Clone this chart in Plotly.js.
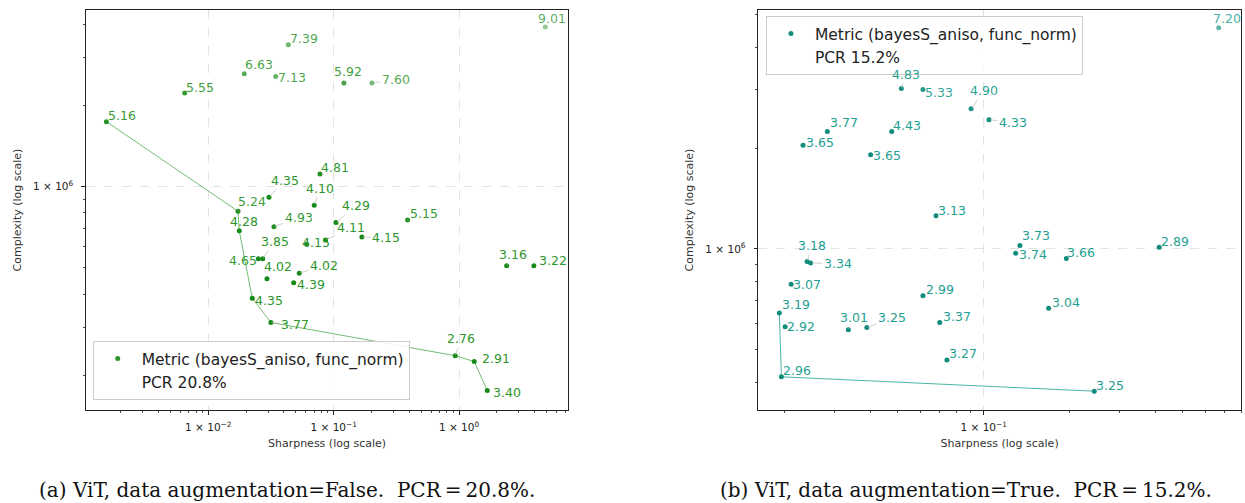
<!DOCTYPE html>
<html>
<head>
<meta charset="utf-8">
<script src="https://cdn.plot.ly/plotly-3.0.1.min.js"></script>
<style>html,body{margin:0;padding:0;background:#fff;}</style>
</head>
<body>
<div id="chart" style="width:1245px;height:503px;"></div>
<script>
// ---------- Data: (a) data augmentation = False ----------
const leftSharpness = [0.00154, 0.00649, 0.01936, 0.0345, 0.0435, 0.1208, 0.202, 4.87, 0.0778, 0.0305,
  0.070, 0.01726, 0.01767, 0.0334, 0.1043, 0.0863, 0.0609, 0.168, 0.0272, 0.02506,
  0.02938, 0.0532, 0.048, 0.02244, 0.0316, 0.389, 2.397, 3.95, 0.933, 1.322, 1.679];
const leftComplexity = [1.74e6, 2.22e6, 2.62e6, 2.56e6, 3.35e6, 2.42e6, 2.42e6, 3.90e6, 1.114e6, 9.14e5,
  8.53e5, 8.11e5, 6.87e5, 7.11e5, 7.36e5, 6.35e5, 6.12e5, 6.51e5, 5.41e5, 5.41e5,
  4.56e5, 4.78e5, 4.41e5, 3.86e5, 3.14e5, 7.53e5, 5.09e5, 5.09e5, 2.366e5, 2.25e5, 1.76e5];
const leftMetric = [5.16, 5.55, 6.63, 7.13, 7.39, 5.92, 7.60, 9.01, 4.81, 4.35,
  4.10, 5.24, 4.28, 4.93, 4.29, 4.11, 4.15, 4.15, 3.85, 4.65,
  4.02, 4.02, 4.39, 4.35, 3.77, 5.15, 3.16, 3.22, 2.76, 2.91, 3.40];
const leftFront = [0, 11, 12, 23, 24, 28, 29, 30];   // indices of the connected front

// ---------- Data: (b) data augmentation = True ----------
const rightSharpness = [0.0514, 0.0612, 0.0903, 0.1044, 0.02827, 0.04755, 0.02323, 0.0401, 0.068, 0.668,
  0.024, 0.0247, 0.0211, 0.01918, 0.0201, 0.0195, 0.0335, 0.0389, 0.0612, 0.0701,
  0.0743, 0.134, 0.1295, 0.195, 0.413, 0.169, 0.2444];
const rightComplexity = [3.01e6, 2.99e6, 2.62e6, 2.43e6, 2.24e6, 2.24e6, 2.04e6, 1.91e6, 1.255e6, 4.57e6,
  9.17e5, 9.08e5, 7.84e5, 6.43e5, 5.85e5, 4.15e5, 5.74e5, 5.82e5, 7.24e5, 6.03e5,
  4.66e5, 1.023e6, 9.70e5, 9.36e5, 1.011e6, 6.65e5, 3.76e5];
const rightMetric = [4.83, 5.33, 4.90, 4.33, 3.77, 4.43, 3.65, 3.65, 3.13, 7.20,
  3.18, 3.34, 3.07, 3.19, 2.92, 2.96, 3.01, 3.25, 2.99, 3.37,
  3.27, 3.73, 3.74, 3.66, 2.89, 3.04, 3.25];
const rightFront = [13, 15, 26];

const legendName = 'Metric (bayesS_aniso, func_norm)';
const leftPCR = 'PCR 20.8%';
const rightPCR = 'PCR 15.2%';
const xTickVals = [0.01, 0.1, 1];
const xTickText = ['1 × 10<sup>−2</sup>', '1 × 10<sup>−1</sup>', '1 × 10<sup>0</sup>'];
const yTickVals = [1e6];
const yTickText = ['1 × 10<sup>6</sup>'];
const captionLeft = '(a) ViT, data augmentation=False.  PCR\u2009=\u200920.8%.';
const captionRight = '(b) ViT, data augmentation=True.  PCR\u2009=\u200915.2%.';

// ---------- Label placement (pixel offsets of label centre from its point) ----------
const leftLabelDx = [16,15,15,16,16,4,24,7,15,16, 6,14,5,25,20,25,9,24,12,-15, 11,25,17,17,24,16,6,19,6,22,20];
const leftLabelDy = [-6,-6,-9,1,-6,-11,-3,-9,-6,-17, -17,-10,-9,-9,-17,-12,-2,1,-17,2, -12,-8,2,2,2,-6,-11,-5,-17,-3,2];
const leftLeader  = [0,0,0,0,0,1,1,1,0,1, 1,0,0,1,1,1,0,1,1,0, 0,1,0,0,1,0,1,0,1,0,0];
const rightLabelDx = [5,16,13,24,17,15,17,16,16,8, 5,27,16,17,16,16,6,25,17,17, 16,16,17,15,16,17,16];
const rightLabelDy = [-14,3,-18,3,-9,-6,-3,1,-5,-9, -16,1,0,-9,0,-6,-12,-10,-6,-6, -6,-10,1,-6,-6,-6,-6];
const rightLeader  = [1,0,1,1,0,0,0,0,0,1, 1,1,0,0,0,0,1,1,0,0, 0,0,0,0,0,0,0];

function fade(v){ return Math.max(0.45, Math.min(1, 1 - (v - 4.5) * 0.13)); }

function minorTicks(){
  const t = [];
  for (let e = -4; e <= 7; e++) for (let k = 2; k <= 9; k++) t.push(k * Math.pow(10, e));
  return t;
}

function makeTraces(sx, sy, m, front, xa, ya, dotRGB, lineCol, pcr, legendId){
  const pts = {
    type:'scatter', mode:'markers', x:sx, y:sy, xaxis:xa, yaxis:ya,
    name:legendName, legend:legendId,
    marker:{size:5, color:dotRGB, opacity:m.map(fade)},
    hoverinfo:'x+y+text', text:m.map(v=>v.toFixed(2))
  };
  const line = {
    type:'scatter', mode:'lines', x:front.map(i=>sx[i]), y:front.map(i=>sy[i]),
    xaxis:xa, yaxis:ya, showlegend:false, hoverinfo:'skip',
    line:{color:lineCol, width:1}
  };
  const dummy = {
    type:'scatter', mode:'markers', x:[null], y:[null], xaxis:xa, yaxis:ya,
    name:pcr, legend:legendId, marker:{color:'rgba(0,0,0,0)', size:5}, hoverinfo:'skip'
  };
  return [line, pts, dummy];
}

function makeLabels(sx, sy, m, dx, dy, leader, xr, yr, rgb){
  return m.map((v,i)=>{
    const a = {
      x:Math.log10(sx[i]), y:Math.log10(sy[i]), xref:xr, yref:yr,
      text:v.toFixed(2),
      font:{family:'DejaVu Sans', size:12.5, color:'rgba('+rgb+','+(0.6+0.4*fade(v)).toFixed(2)+')'}
    };
    if (leader[i]) {
      Object.assign(a, {showarrow:true, ax:dx[i], ay:dy[i], arrowhead:0, arrowwidth:0.8,
        arrowcolor:'rgba(190,190,190,0.9)', standoff:1, startstandoff:0});
    } else {
      Object.assign(a, {showarrow:false, xshift:dx[i], yshift:-dy[i]});
    }
    return a;
  });
}

const data = [].concat(
  makeTraces(leftSharpness, leftComplexity, leftMetric, leftFront, 'x', 'y', '#168a16', 'rgba(70,165,70,0.75)', leftPCR, 'legend'),
  makeTraces(rightSharpness, rightComplexity, rightMetric, rightFront, 'x2', 'y2', '#0f8c7c', 'rgba(30,160,140,0.8)', rightPCR, 'legend2')
);

const minor = minorTicks();
function xAxis(domain, range, anchor){
  return {
    type:'log', domain:domain, range:range, anchor:anchor,
    tickmode:'array', tickvals:xTickVals, ticktext:xTickText,
    ticks:'outside', ticklen:3.5, tickwidth:1, tickcolor:'#222', ticklabelstandoff:4,
    minor:{tickmode:'array', tickvals:minor, ticks:'outside', ticklen:2, tickwidth:0.8, tickcolor:'#222', showgrid:false},
    showgrid:true, gridcolor:'#dcdcdc', griddash:'dash', gridwidth:0.8,
    showline:true, linecolor:'#222', linewidth:1.2, mirror:true, zeroline:false,
    tickfont:{family:'DejaVu Sans', size:10.5, color:'#222'},
    title:{text:'Sharpness (log scale)', font:{family:'DejaVu Sans', size:11, color:'#333'}, standoff:7}
  };
}
function yAxis(range, anchor){
  return {
    type:'log', domain:[0,1], range:range, anchor:anchor,
    tickmode:'array', tickvals:yTickVals, ticktext:yTickText,
    ticks:'outside', ticklen:3.5, tickwidth:1, tickcolor:'#222', ticklabelstandoff:6,
    minor:{tickmode:'array', tickvals:minor, ticks:'outside', ticklen:2, tickwidth:0.8, tickcolor:'#222', showgrid:false},
    showgrid:true, gridcolor:'#dcdcdc', griddash:'dash', gridwidth:0.8,
    showline:true, linecolor:'#222', linewidth:1.2, mirror:true, zeroline:false,
    tickfont:{family:'DejaVu Sans', size:10.5, color:'#222'},
    title:{text:'Complexity (log scale)', font:{family:'DejaVu Sans', size:11, color:'#333'}, standoff:9}
  };
}

const annotations = [].concat(
  makeLabels(leftSharpness, leftComplexity, leftMetric, leftLabelDx, leftLabelDy, leftLeader, 'x', 'y', '44,150,44'),
  makeLabels(rightSharpness, rightComplexity, rightMetric, rightLabelDx, rightLabelDy, rightLeader, 'x2', 'y2', '30,160,145'),
  [
    {xref:'paper', yref:'paper', x:0.174, y:-0.2, xanchor:'center', yanchor:'middle', showarrow:false,
     text:captionLeft, font:{family:'DejaVu Serif', size:20, color:'#111'}},
    {xref:'paper', yref:'paper', x:0.762, y:-0.2, xanchor:'center', yanchor:'middle', showarrow:false,
     text:captionRight, font:{family:'DejaVu Serif', size:20, color:'#111'}}
  ]
);

const legendBase = {
  bgcolor:'rgba(255,255,255,0.85)', bordercolor:'#cccccc', borderwidth:1,
  font:{family:'DejaVu Sans', size:15.5, color:'#222'}, itemwidth:38, tracegroupgap:0
};

const layout = {
  width:1245, height:503,
  margin:{l:86, r:4, t:10, b:93},
  paper_bgcolor:'#ffffff', plot_bgcolor:'#ffffff',
  font:{family:'DejaVu Sans', color:'#222'},
  showlegend:true,
  xaxis:xAxis([0, 0.41732], [-2.975, 0.869], 'y'),
  yaxis:yAxis([5.173, 6.654], 'x'),
  xaxis2:xAxis([0.58208, 1], [-1.791, -0.097], 'y2'),
  yaxis2:yAxis([5.519, 6.713], 'x2'),
  legend:Object.assign({x:0.0058, y:0.025, xanchor:'left', yanchor:'bottom'}, legendBase),
  legend2:Object.assign({x:0.5887, y:0.985, xanchor:'left', yanchor:'top'}, legendBase),
  annotations:annotations
};

Plotly.newPlot('chart', data, layout, {displayModeBar:false, staticPlot:true});
</script>
</body>
</html>
